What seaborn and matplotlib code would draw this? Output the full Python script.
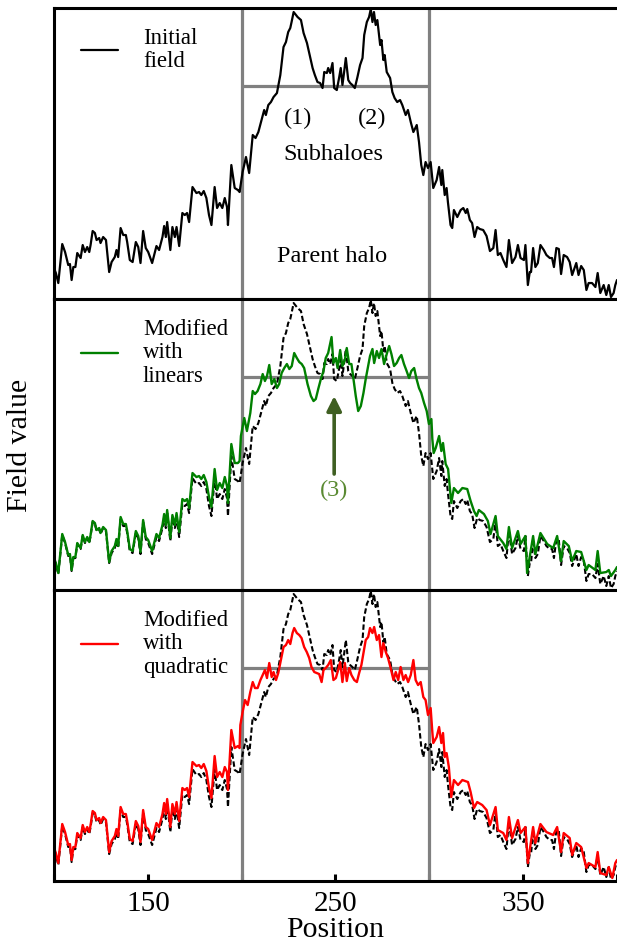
import matplotlib
matplotlib.use("Agg")
import matplotlib.pyplot as plt
import seaborn as sns

# positions left of the parent halo, shared by the three curves
pos_left = [100, 101, 102.3, 104.4, 105.9, 107.6, 108.5, 109.4, 110.3, 111.4,
            112.4, 114.2, 115.3, 116.5, 117.7, 118.8, 119.5, 120.6, 121.8, 122.7,
            124.1, 124.8, 126.2, 127.7, 129.4, 130.7, 132.4, 133.3, 134.2, 135.5,
            136.9, 138.3, 139, 140.4, 141.9, 143.6, 144.9, 146.1, 147.5, 148.9,
            150.2, 152.3, 154.6, 156, 157.8, 158.7, 159.6, 160.3, 162, 163.1,
            164.4, 165.3, 166.7, 168.4, 169.7, 170.9, 172, 173.8, 175.9, 177.3,
            178.5, 179.8, 181.2, 182.6, 183.9, 185.6, 186.9, 188.3, 189.7, 191,
            192.2, 192.7, 194.5, 196.3, 198, 198.9]
initial_left = [3.0, 2.5, 1.5, 5.4, 4.6, 3.3, 3.4, 1.8, 3.1, 3.1,
                4.5, 4.0, 5.3, 4.6, 5.1, 4.6, 5.3, 6.7, 6.5, 5.8,
                6.0, 5.5, 6.1, 5.8, 2.6, 3.6, 4.1, 4.8, 4.1, 7.0,
                6.3, 6.3, 5.6, 3.8, 3.6, 5.6, 5.1, 3.5, 6.7, 5.0,
                4.6, 3.5, 5.2, 4.8, 6.1, 7.2, 6.1, 7.6, 4.8, 7.1,
                6.1, 7.1, 5.2, 8.5, 8.3, 8.5, 7.6, 11.1, 10.5, 10.6,
                10.3, 10.7, 10.0, 8.3, 7.3, 11.1, 9.0, 9.5, 9.0, 10.0,
                9.1, 7.3, 13.3, 11.0, 10.8, 10.6]
linear_left = [3.1, 2.6, 1.6, 5.5, 4.7, 3.4, 3.5, 1.9, 3.2, 3.2,
               4.6, 4.1, 5.4, 4.7, 5.2, 4.7, 5.4, 6.8, 6.6, 5.9,
               6.1, 5.6, 6.2, 5.9, 2.7, 3.8, 4.3, 5.0, 4.3, 7.2,
               6.5, 6.5, 5.8, 4.0, 3.8, 5.8, 5.3, 3.7, 6.9, 5.2,
               4.9, 3.8, 5.5, 5.1, 6.4, 7.5, 6.4, 7.9, 5.1, 7.4,
               6.4, 7.6, 5.7, 9.0, 8.8, 9.0, 8.1, 11.6, 11.2, 11.3,
               11.0, 11.4, 10.7, 9.2, 8.2, 12.0, 9.9, 10.6, 10.1, 11.2,
               10.3, 8.6, 14.5, 12.6, 12.6, 12.8]
quadratic_left = [3.2, 2.7, 1.7, 5.6, 4.8, 3.5, 3.6, 2.0, 3.3, 3.3,
                  4.7, 4.2, 5.5, 4.8, 5.3, 4.8, 5.5, 6.9, 6.7, 6.0,
                  6.2, 5.7, 6.3, 6.0, 2.8, 3.9, 4.4, 5.1, 4.4, 7.3,
                  6.6, 6.6, 5.9, 4.1, 3.9, 5.9, 5.4, 3.8, 7.0, 5.3,
                  5.1, 4.0, 5.7, 5.3, 6.6, 7.7, 6.6, 8.1, 5.3, 7.6,
                  6.6, 7.8, 5.9, 9.2, 9.0, 9.2, 8.3, 11.8, 11.4, 11.5,
                  11.2, 11.6, 10.9, 9.2, 8.2, 12.4, 10.3, 10.8, 10.3, 11.3,
                  10.8, 9.0, 15.0, 13.2, 13.4, 13.2]

# initial field from x = 200 onwards
pos_initial = [200.5, 202.3, 204, 205.9, 207.4, 208.9, 210.3, 212, 212.9, 214.2,
               215.6, 217, 218.8, 220.6, 222.3, 223.6, 224.8, 225.9, 226.6, 227.7,
               229.8, 231.6, 233, 234.8, 236, 237.8, 239, 240.4, 241.8, 243.1,
               244, 245.4, 246.1, 247.2, 248.4, 249.3, 250.7, 252, 252.8, 253.7,
               254.6, 255.5, 256.8, 257.8, 259, 260.3, 261.7, 263.1, 264.4, 265.3,
               266.7, 267.9, 268.8, 269.7, 270.5, 271.4, 272.3, 273.8, 274.5, 275.5,
               276.2, 277.3, 279.1, 280.3, 281.5, 282.9, 284.4, 285.6, 287.4, 288.6,
               290.1, 291.5, 293.3, 294.5, 295.7, 296.8, 298, 299.3, 300.7, 302.1,
               303.9, 305.2, 306.4, 306.9, 308.2, 309.2, 309.9, 311.3, 312.2, 313.1,
               314.9, 316.7, 318.1, 319.4, 320.2, 321.6, 322.8, 324.1, 325.5, 326.9,
               328.7, 330.5, 332.3, 334.1, 335.3, 336.5, 337.9, 339.4, 341.1, 342.4,
               344.1, 345.9, 347.2, 348.6, 350.4, 351.2, 352.5, 353.5, 354.2, 355.3,
               356.5, 357.8, 359.2, 361, 362.4, 364.2, 365.4, 366.4, 367.7, 369,
               370.2, 371.6, 373.4, 374.8, 376.1, 377, 378.3, 379.5, 380.9, 382.3,
               383.7, 384.9, 386.7, 388.5, 389.7, 391.1, 392.9, 394.3, 395.6, 396.8,
               398.2, 399.1, 400]
initial_vals = [12.6, 14.1, 12.5, 16.3, 16.0, 16.6, 17.6, 18.8, 18.3, 19.3,
                19.6, 20.1, 20.5, 22.3, 25.1, 25.6, 26.6, 27.0, 27.6, 28.6,
                28.1, 27.8, 26.5, 25.5, 24.5, 23.0, 22.3, 21.6, 21.5, 21.0,
                22.6, 22.5, 23.0, 22.5, 23.5, 21.0, 20.8, 22.1, 23.0, 21.3,
                22.6, 24.0, 21.8, 21.5, 21.3, 21.0, 22.1, 23.3, 24.0, 26.3,
                27.6, 28.1, 28.9, 27.6, 28.6, 27.3, 27.8, 25.3, 25.8, 23.8,
                24.3, 22.6, 22.0, 20.6, 20.0, 19.6, 19.8, 19.3, 18.3, 18.8,
                17.6, 16.6, 17.3, 15.6, 13.3, 12.3, 13.6, 13.0, 13.6, 11.0,
                11.8, 13.1, 11.3, 12.8, 10.3, 11.0, 9.6, 7.3, 7.0, 8.8,
                8.1, 8.8, 9.0, 8.5, 8.9, 7.8, 7.5, 6.1, 7.1, 6.9,
                6.8, 6.2, 4.7, 5.0, 6.8, 4.3, 4.5, 3.8, 3.1, 5.8,
                3.5, 4.1, 5.3, 4.0, 3.8, 5.3, 1.3, 2.6, 2.6, 5.0,
                3.1, 3.5, 5.3, 4.8, 4.3, 4.0, 4.0, 3.1, 5.0, 4.9,
                2.4, 4.3, 4.1, 3.6, 2.3, 2.8, 3.5, 2.3, 3.2, 2.8,
                0.8, 1.5, 1.5, 1.1, 2.5, 0.5, 1.3, 0.3, 1.3, 0.1,
                0.5, 1.3, 1.8]

# field modified with linears, x = 200 onwards
pos_linear = [199.6, 201.4, 202.8, 204.6, 205.9, 207.1, 208.5, 210, 211.2, 212.4,
              213.5, 214.7, 216, 217.4, 218.8, 220, 221.3, 222.7, 224.1, 225.4,
              226.7, 228, 229.4, 230.7, 232, 233.3, 235.1, 236.9, 238.3, 239.5,
              240.8, 242.2, 243.6, 244.8, 246.1, 247.9, 248.9, 250.2, 251.1, 252.5,
              253.7, 255, 256, 257.3, 258.5, 259.6, 260.8, 262.1, 263.5, 264.9,
              266.1, 267.4, 268.4, 269.7, 270.6, 272, 273.2, 274.5, 275.9, 277.3,
              278.6, 279.8, 281.2, 282.6, 283.9, 285.1, 286.5, 287.9, 289.2, 290.4,
              291.9, 293.2, 294.5, 295.7, 297.2, 298.6, 299.8, 301.1, 301.6, 302.3,
              303.4, 305.2, 306.4, 307.3, 308.7, 310, 311.7, 313.1, 315.3, 317.6,
              320.2, 322, 323.8, 325.2, 326.4, 329.1, 331.2, 332.6, 335.3, 336.5,
              339.4, 341.1, 342.4, 344.1, 347.2, 348.6, 351.2, 352.1, 355.3, 356.5,
              359.2, 362.8, 366, 368.1, 370.2, 371.6, 374.3, 376.1, 378.3, 380.9,
              383.7, 384.9, 388.5, 389.7, 391.1, 394.3, 395.6, 396.8, 399.1, 400]
linear_vals = [15.3, 17.1, 15.8, 17.6, 19.8, 19.5, 19.8, 20.5, 21.5, 20.8,
               21.3, 22.4, 20.5, 21.0, 20.1, 20.5, 21.6, 22.1, 22.5, 22.0,
               22.3, 23.6, 23.1, 22.7, 22.5, 22.1, 20.5, 19.3, 18.8, 19.0,
               20.0, 21.0, 21.8, 23.1, 23.6, 25.2, 22.6, 23.1, 22.1, 23.9,
               22.3, 22.9, 24.1, 22.5, 22.5, 21.0, 19.3, 17.8, 18.3, 19.6,
               21.0, 22.3, 23.3, 24.0, 22.6, 23.8, 23.1, 24.0, 22.5, 23.5,
               24.3, 23.5, 22.3, 22.6, 23.1, 23.4, 22.5, 21.8, 21.1, 21.8,
               22.1, 21.0, 20.1, 19.6, 18.6, 17.8, 16.5, 17.0, 15.0, 13.6,
               14.1, 15.3, 13.8, 14.6, 12.5, 12.0, 8.6, 10.1, 9.6, 10.1,
               10.0, 8.8, 7.8, 7.3, 7.9, 7.5, 6.8, 5.5, 7.3, 5.3,
               4.6, 4.0, 6.2, 4.1, 5.8, 4.5, 5.3, 1.6, 5.3, 3.5,
               5.6, 4.5, 4.1, 5.3, 2.8, 4.8, 4.3, 2.8, 3.8, 3.7,
               1.9, 2.4, 1.9, 3.8, 1.6, 1.7, 1.9, 1.3, 1.9, 2.2]

# field modified with quadratic, x = 200 onwards
pos_quadratic = [199.3, 200.5, 201.8, 203.2, 204.6, 205.9, 207.1, 208.5, 210, 211.2,
                 212.4, 213.5, 214.7, 216, 217, 218.3, 219.5, 220.9, 222.3, 223.6,
                 224.8, 225.9, 227.1, 228, 229.4, 230.7, 231.9, 233.3, 234.7, 236,
                 237.2, 238.7, 240, 241.3, 242.6, 243.6, 244.8, 246.1, 247.5, 248.9,
                 250.2, 251.4, 252.5, 253.7, 255, 256, 257.3, 258.5, 260, 261.4,
                 262.6, 263.8, 264.9, 266.1, 267.4, 268.4, 269.7, 270.6, 272, 273.2,
                 274.5, 275.5, 276.8, 278, 279.4, 280.9, 282.1, 283.4, 284.7, 286.2,
                 287.4, 288.7, 290.1, 291.5, 292.7, 294, 295.4, 296.8, 298, 299.3,
                 300.7, 301.6, 302.1, 303.9, 305.2, 306.4, 307.3, 308.2, 309.2, 310.4,
                 311.7, 313.1, 315.3, 317.6, 320.6, 322, 323.8, 325.5, 328.2, 330.5,
                 332.3, 335.3, 336.5, 339.4, 341.1, 342.4, 344.1, 347.2, 348.6, 351.2,
                 352.5, 355.3, 356.5, 359.2, 362.4, 366, 368.1, 370.2, 371.6, 374.8,
                 376.1, 378.3, 380.9, 383.7, 384.9, 388.5, 389.7, 391.1, 394.3, 395.6,
                 397.5, 399.1, 400]
quadratic_vals = [15.5, 16.8, 18.0, 17.5, 18.8, 19.8, 19.2, 19.2, 20.0, 20.5,
                  21.0, 20.2, 21.7, 20.3, 20.8, 20.0, 20.7, 22.0, 23.3, 23.5,
                  24.0, 23.6, 24.7, 25.2, 24.7, 24.5, 24.2, 23.3, 22.8, 22.2,
                  21.3, 20.8, 20.7, 20.6, 19.8, 21.0, 21.2, 21.5, 22.0, 20.0,
                  20.2, 21.0, 21.8, 19.8, 21.7, 19.9, 21.2, 20.5, 20.0, 19.8,
                  20.7, 21.5, 22.7, 24.0, 24.3, 25.2, 24.7, 25.3, 24.0, 24.5,
                  22.3, 23.7, 22.8, 22.2, 21.2, 20.0, 20.8, 20.0, 21.3, 20.0,
                  20.5, 19.8, 20.5, 22.0, 20.0, 19.5, 19.8, 18.3, 18.0, 16.5,
                  17.2, 14.8, 13.7, 14.3, 15.3, 13.7, 14.7, 12.3, 12.7, 11.3,
                  8.3, 10.0, 9.5, 10.0, 9.8, 8.8, 7.2, 7.8, 7.5, 7.0,
                  5.5, 7.3, 5.0, 4.7, 4.0, 6.3, 4.2, 6.0, 4.7, 5.3,
                  1.7, 5.3, 3.7, 5.6, 4.8, 4.5, 5.3, 2.8, 4.7, 4.2,
                  2.5, 3.7, 3.3, 1.2, 1.7, 1.3, 2.8, 0.7, 0.5, 1.3,
                  0.2, 1.7, 2.0]

halo_edges = [200, 300]
subhalo_level = 21.2
tick_pos = [100, 150, 200, 250, 300, 350, 400]
tick_txt = ["", "150", "", "250", "", "350", ""]

init_x = pos_left + pos_initial
init_y = initial_left + initial_vals
lin_x = pos_left + pos_linear
lin_y = linear_left + linear_vals
quad_x = pos_left + pos_quadratic
quad_y = quadratic_left + quadratic_vals

sns.set_style("ticks", {"axes.edgecolor": "black", "text.color": "black",
                        "xtick.color": "black", "axes.labelcolor": "black"})
plt.rcParams["font.family"] = ["Liberation Serif", "DejaVu Serif"]

fig, axes = plt.subplots(3, 1, figsize=(6.17, 9.44), dpi=100, sharex=True)
fig.subplots_adjust(left=0.0875, right=1.0, bottom=0.0667, top=0.9915, hspace=0)

for ax in axes:
    for e in halo_edges:
        ax.axvline(e, color="gray", lw=2.3, zorder=1)
    ax.hlines(subhalo_level, halo_edges[0], halo_edges[1], color="gray", lw=2.3, zorder=1)

ax1, ax2, ax3 = axes
sns.lineplot(x=init_x, y=init_y, ax=ax1, color="black", lw=1.6,
             estimator=None, sort=False, label="Initial\nfield")

for ax, xs, ys, col, lab in [(ax2, lin_x, lin_y, "green", "Modified\nwith\nlinears"),
                             (ax3, quad_x, quad_y, "red", "Modified\nwith\nquadratic")]:
    sns.lineplot(x=init_x, y=init_y, ax=ax, color="black", lw=1.5,
                 linestyle=(0, (2.6, 1.3)), estimator=None, sort=False)
    sns.lineplot(x=xs, y=ys, ax=ax, color=col, lw=1.7,
                 estimator=None, sort=False, label=lab)

for ax in axes:
    leg = ax.legend(loc="upper left", bbox_to_anchor=(0.048, 0.93), frameon=False,
                    fontsize=16.5, handlelength=1.6, handletextpad=1.1,
                    borderpad=0, borderaxespad=0)
    for t in leg.get_texts():
        t.set_linespacing(1.13)
    ax.set_xlim(100, 400)
    ax.set_ylim(-0.1, 29.0)
    ax.set_yticks([])
    ax.spines["right"].set_visible(False)
    for s in ["left", "top", "bottom"]:
        ax.spines[s].set_linewidth(2.2)
        ax.spines[s].set_color("black")
    ax.tick_params(axis="x", bottom=False, labelbottom=False)

ax3.set_xticks(tick_pos)
ax3.set_xticklabels(tick_txt)
ax3.tick_params(axis="x", bottom=True, labelbottom=True, direction="in",
                length=5, width=2.2, labelsize=21, pad=7, colors="black")
ax3.set_xlabel("Position", fontsize=21.5, labelpad=0, color="black")

ax1.text(229.8, 18.0, "(1)", ha="center", va="center", fontsize=17.5)
ax1.text(269.3, 18.0, "(2)", ha="center", va="center", fontsize=17.5)
ax1.text(248.9, 14.4, "Subhaloes", ha="center", va="center", fontsize=17.5)
ax1.text(248.4, 4.2, "Parent halo", ha="center", va="center", fontsize=17.5)

ax2.annotate("", xy=(249.3, 19.3), xytext=(249.3, 11.5),
             arrowprops=dict(arrowstyle="-|>", color="#3f5f22", lw=2.6,
                             mutation_scale=22, shrinkA=0, shrinkB=0))
ax2.text(249.3, 9.9, "(3)", ha="center", va="center", fontsize=17.5, color="#5a8a32")

fig.text(0.032, 0.5286, "Field value", rotation=90, ha="center", va="center",
         fontsize=21.5, color="black")

fig.savefig("out.png", dpi=100)
